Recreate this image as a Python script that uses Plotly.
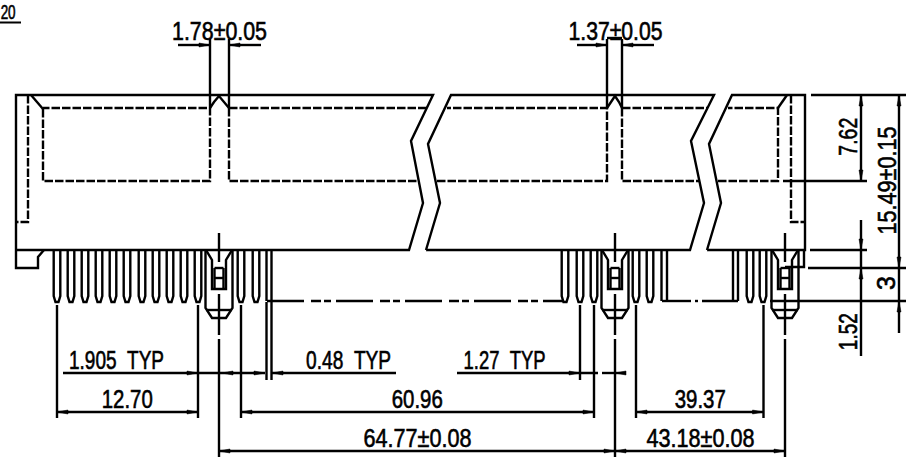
import json
import plotly.graph_objects as go

W, H = 911, 461

# ---- outline (drawing coordinates) ----
body_solid = [
    [(16, 250), (16, 95), (433, 95), (411, 141), (423, 203), (409, 250), (16, 250)],
    [(426, 250), (440, 203), (428, 144), (451, 95), (714, 95), (691, 141), (704, 203), (690, 250), (426, 250)],
    [(707, 250), (721, 203), (709, 144), (732, 95), (805, 95), (805, 250), (707, 250)],
    [(31, 95), (43, 109)],
    [(787, 95), (778, 108)],
    [(16, 250), (16, 268), (38, 268), (38, 257), (44, 250)],
    [(785, 267), (804, 267), (804, 250)],
    # notches
    [(210, 108), (214, 102), (219, 96), (224, 102), (229, 108)],
    [(607, 108), (611, 102), (615, 96), (619, 102), (622, 108)],
]
body_dashed = [
    [(28, 95), (28, 222), (17, 222)],
    [(43, 109), (43, 181), (210, 181), (210, 108), (43, 108)],
    [(229, 108), (229, 181), (418, 181)],
    [(229, 108), (427, 108)],
    [(437, 181), (607, 181), (607, 108), (447, 108)],
    [(622, 108), (622, 181), (700, 181)],
    [(622, 108), (708, 108)],
    [(718, 181), (778, 181), (778, 108), (728, 108)],
    [(791, 95), (791, 222), (805, 222)],
]

# ---- pins ----
pin_centers = [57, 71, 85, 99, 113, 127, 142, 156, 170, 184, 198,
               241, 256, 565, 580, 594, 636, 650, 750, 763]
straight_pins = [(266.5, 271.5), (661.5, 667), (733, 738)]
pin_shape = [(-3.3, 250), (-3.3, 296), (-1.5, 302), (1.5, 302), (3.3, 296), (3.3, 250)]

# ---- mounting posts ----
post_centers = [219, 615, 785]
post_outer = [(-13.5, 250), (-13.5, 308), (-7, 318), (7, 318), (13.5, 308), (13.5, 250)]
post_inner = [(-13, 250), (-7, 260), (-7, 289), (7, 289), (7, 260), (13, 250)]
post_h = [(-4.5, 268), (-4.5, 288)]
post_h2 = [(4.5, 268), (4.5, 288)]
post_bar = [(-4.5, 278), (4.5, 278)]
post_top = [(-4.5, 268), (4.5, 268)]
post_cross = [(-13, 310), (13, 310)]
post_axis = [[(0, 233), (0, 262)], [(0, 294), (0, 335)], [(0, 339), (0, 457)]]

# ---- pin-end line ----
end_long = [(267, 301), (563, 301)]
end_right = [[(662, 301), (691, 301)], [(695, 301), (698, 301)], [(702, 301), (738, 301)]]

# ---- extension and dimension lines ----
dim_lines = [
    [(210, 39), (210, 108)], [(229, 39), (229, 108)],
    [(607, 39), (607, 108)], [(622, 39), (622, 108)], [(607, 38), (622, 38)],
    [(178, 45), (210, 45)], [(229, 45), (261, 45)],
    [(577, 45), (607, 45)], [(622, 45), (654, 45)],
    [(57, 305), (57, 418)], [(198, 305), (198, 418)], [(241, 305), (241, 418)],
    [(266.5, 302), (266.5, 380)], [(271.5, 302), (271.5, 380)],
    [(580, 305), (580, 380)], [(594, 305), (594, 418)],
    [(636, 305), (636, 418)], [(763.5, 305), (763.5, 418)],
    [(63, 373), (265, 373)], [(272, 373), (396, 373)],
    [(457, 373), (598, 373)], [(602, 373), (626, 373)],
    [(57, 412), (198, 412)], [(241, 412), (594, 412)], [(636, 412), (763.5, 412)],
    [(219, 451), (785, 451)],
    [(811, 95), (906, 95)], [(783, 181), (867, 181)], [(810, 250), (867, 250)],
    [(808, 268), (906, 268)], [(770, 301), (906, 301)],
    [(861, 95), (861, 181)], [(861, 220), (861, 356)], [(899, 95), (899, 333)],
]
arrow_tips = [
    (210, 45, -1, 0), (229, 45, 1, 0), (607, 45, -1, 0), (622, 45, 1, 0),
    (198, 373, -1, 0), (222, 373, 1, 0), (265, 373, -1, 0), (272, 373, 1, 0),
    (580, 373, -1, 0), (615, 373, 1, 0),
    (57, 412, 1, 0), (198, 412, -1, 0), (241, 412, 1, 0), (594, 412, -1, 0),
    (636, 412, 1, 0), (763.5, 412, -1, 0),
    (219, 451, 1, 0), (615, 451, -1, 0), (615, 451, 1, 0), (785, 451, -1, 0),
    (861, 95, 0, 1), (861, 181, 0, -1), (861, 250, 0, -1), (861, 268, 0, 1),
    (899, 95, 0, 1), (899, 268, 0, -1), (899, 301, 0, 1),
]

# ---- labels ----
labels = ["1.78±0.05", "1.37±0.05", "1.905\u00a0\u00a0TYP", "0.48\u00a0\u00a0TYP", "1.27\u00a0\u00a0TYP",
          "12.70", "60.96", "39.37", "64.77±0.08", "43.18±0.08"]
label_x = [219, 615, 116, 348, 504, 127, 417, 700, 417, 700]
label_y = [31, 31, 360, 360, 360, 399, 399, 399, 438, 438]
label_w = [95, 94, 95, 85, 82, 51, 51, 51, 108, 108]
vlabels = ["7.62", "15.49±0.15", "3", "1.52"]
vlabel_x = [848, 887, 886, 848]
vlabel_y = [137, 181, 283, 332]
vlabel_w = [38, 108, 0, 37]
corner_label = "20"
corner_w = 15


def flat(paths):
    xs, ys = [], []
    for p in paths:
        xs += [q[0] for q in p] + [None]
        ys += [q[1] for q in p] + [None]
    return xs, ys


def shifted(shape, cx):
    return [(cx + a, b) for a, b in shape]


solid = list(body_solid) + list(dim_lines)
for c in pin_centers:
    solid.append(shifted(pin_shape, c))
for a, b in straight_pins:
    solid.append([(a, 250), (a, 301)])
    solid.append([(b, 250), (b, 301)])
for c in post_centers:
    for s in (post_outer, post_inner, post_h, post_h2, post_bar, post_top, post_cross):
        solid.append(shifted(s, c))
    for s in post_axis:
        solid.append(shifted(s, c))
solid += end_right

fig = go.Figure()
x, y = flat(solid)
fig.add_trace(go.Scatter(x=x, y=y, mode="lines", line=dict(color="black", width=2.4)))
x, y = flat(body_dashed)
fig.add_trace(go.Scatter(x=x, y=y, mode="lines", line=dict(color="black", width=2.4, dash="8.5px,2px")))
x, y = flat([end_long])
fig.add_trace(go.Scatter(x=x, y=y, mode="lines", line=dict(color="black", width=2.4, dash="37px,7px,10px,3px,7px,5px")))

heads = []
for tx, ty, dx, dy in arrow_tips:
    heads.append([(tx, ty), (tx + 11 * dx + 2 * dy, ty + 11 * dy + 2 * dx),
                  (tx + 11 * dx - 2 * dy, ty + 11 * dy - 2 * dx), (tx, ty)])
x, y = flat(heads)
fig.add_trace(go.Scatter(x=x, y=y, mode="lines", fill="toself", fillcolor="black",
                         line=dict(color="black", width=0.5)))

font = dict(family="Liberation Sans", size=25, color="black")
for t, a, b in zip(labels, label_x, label_y):
    fig.add_annotation(x=a, y=b, text=t, showarrow=False, font=font, xanchor="center", yanchor="middle")
for t, a, b in zip(vlabels, vlabel_x, vlabel_y):
    fig.add_annotation(x=a, y=b, text=t, showarrow=False, font=font, textangle=-90,
                       xanchor="center", yanchor="middle")
fig.add_annotation(x=8, y=11.5, text=corner_label, showarrow=False, xanchor="center", yanchor="middle",
                   font=dict(family="Liberation Sans", size=20, color="black"))
x, y = flat([[(0, 22.5), (21, 22.5)]])
fig.add_trace(go.Scatter(x=x, y=y, mode="lines", line=dict(color="black", width=2)))

fig.update_layout(
    width=W, height=H, margin=dict(l=0, r=0, t=0, b=0), showlegend=False,
    paper_bgcolor="white", plot_bgcolor="white", hovermode=False,
    xaxis=dict(range=[0, W], visible=False, fixedrange=True),
    yaxis=dict(range=[H, 0], visible=False, fixedrange=True),
)
widths = json.dumps(label_w + vlabel_w + [corner_w])
post = (
    "document.body.style.margin='0';document.body.style.overflow='hidden';"
    "var w=" + widths + ";"
    "document.querySelectorAll('.annotation-text').forEach(function(t,i){"
    "t.style.stroke='black';t.style.strokeWidth='0.6px';"
    "if(w[i]){t.setAttribute('textLength',w[i]);t.setAttribute('lengthAdjust','spacingAndGlyphs');}});"
)
fig.write_html("out.html", config=dict(displayModeBar=False), post_script=post)
